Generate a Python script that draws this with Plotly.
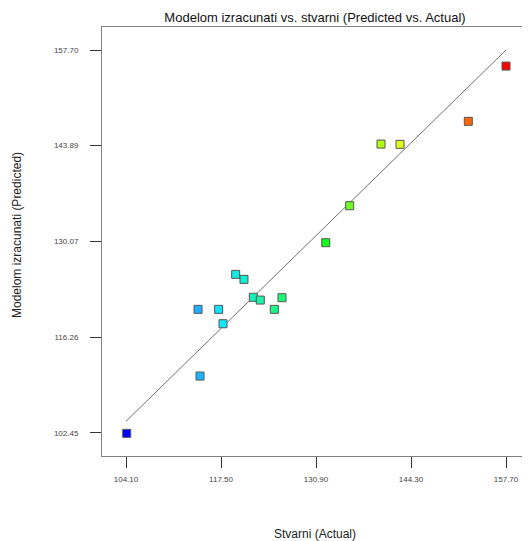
import plotly.graph_objects as go

# Data
actual = [104.20, 114.26, 114.54, 117.17, 117.78, 119.57, 120.74, 122.06,
          123.04, 125.02, 126.10, 132.27, 135.65, 140.07, 142.75, 152.38, 157.70]
predicted = [102.36, 120.26, 110.63, 120.26, 118.18, 125.31, 124.59, 122.00,
             121.60, 120.26, 121.94, 129.88, 135.22, 144.12, 144.08, 147.40, 155.38]

x_ticks = [104.10, 117.50, 130.90, 144.30, 157.70]
y_ticks = [102.45, 116.26, 130.07, 143.89, 157.70]
ref_line = [104.10, 157.70]

title = "Modelom izracunati vs. stvarni (Predicted vs. Actual)"
x_title = "Stvarni (Actual)"
y_title = "Modelom izracunati (Predicted)"

# page has an 8px body margin; work in page coordinates and shift
OFF = 8
PW, PH = 530, 541
W, H = PW - OFF, PH - OFF
px_left, px_right, px_top, px_bottom = 102, 529, 27, 456
L = px_left - OFF
R = W - (px_right - OFF)
T = px_top - OFF
B = H - (px_bottom - OFF)
plot_w = W - L - R
plot_h = H - T - B


def xfrac(page_x):
    return (page_x - px_left) / plot_w


def yfrac(page_y):
    return (px_bottom - page_y) / plot_h


colorscale = [
    [0.00, "#0000ff"],
    [0.19, "#1eb0ff"],
    [0.25, "#10e8ff"],
    [0.32, "#10f0c8"],
    [0.40, "#20f880"],
    [0.53, "#10ff10"],
    [0.59, "#70ff20"],
    [0.67, "#b0ff10"],
    [0.72, "#e0ff10"],
    [0.90, "#ff6600"],
    [1.00, "#ff0000"],
]

fig = go.Figure()
fig.add_trace(go.Scatter(
    x=ref_line, y=ref_line, mode="lines",
    line=dict(color="#707070", width=1), hoverinfo="skip", showlegend=False))
fig.add_trace(go.Scatter(
    x=actual, y=predicted, mode="markers",
    marker=dict(symbol="square", size=8, color=actual, colorscale=colorscale,
                cmin=min(x_ticks), cmax=max(x_ticks),
                line=dict(color="#555555", width=1)),
    showlegend=False))

font_family = "Liberation Sans, Arial, sans-serif"
axis_common = dict(
    showline=True, linecolor="#808080", linewidth=1,
    showgrid=False, zeroline=False, ticks="outside", ticklen=11,
    tickcolor="#333333", tickwidth=1,
    tickfont=dict(size=8, color="#444444", family=font_family),
)

fig.update_layout(
    width=W, height=H,
    margin=dict(l=L, r=R, t=T, b=B),
    paper_bgcolor="white", plot_bgcolor="white",
    font=dict(family=font_family),
    title=dict(text=title, x=xfrac(315), xref="paper",
               xanchor="center", y=1 - (17 - OFF) / H, yanchor="middle",
               font=dict(size=13, color="#111111", family=font_family)),
    xaxis=dict(range=[100.715, 160.94], tickvals=x_ticks, mirror=True,
               ticktext=[f"{v:.2f}" for v in x_ticks], ticklabelstandoff=4,
               **axis_common),
    yaxis=dict(range=[99.09, 161.02], tickvals=y_ticks, mirror=False,
               ticktext=[f"{v:.2f}" for v in y_ticks], ticklabelstandoff=10,
               **axis_common),
    annotations=[
        dict(text=x_title, xref="paper", yref="paper", x=xfrac(314.5),
             y=yfrac(534), xanchor="center", yanchor="middle",
             showarrow=False, font=dict(size=12, color="#222222", family=font_family)),
        dict(text=y_title, xref="paper", yref="paper", x=xfrac(17),
             y=yfrac(235), xanchor="center", yanchor="middle",
             textangle=-90, showarrow=False,
             font=dict(size=12, color="#222222", family=font_family)),
    ],
)

fig.write_html("out.html")
